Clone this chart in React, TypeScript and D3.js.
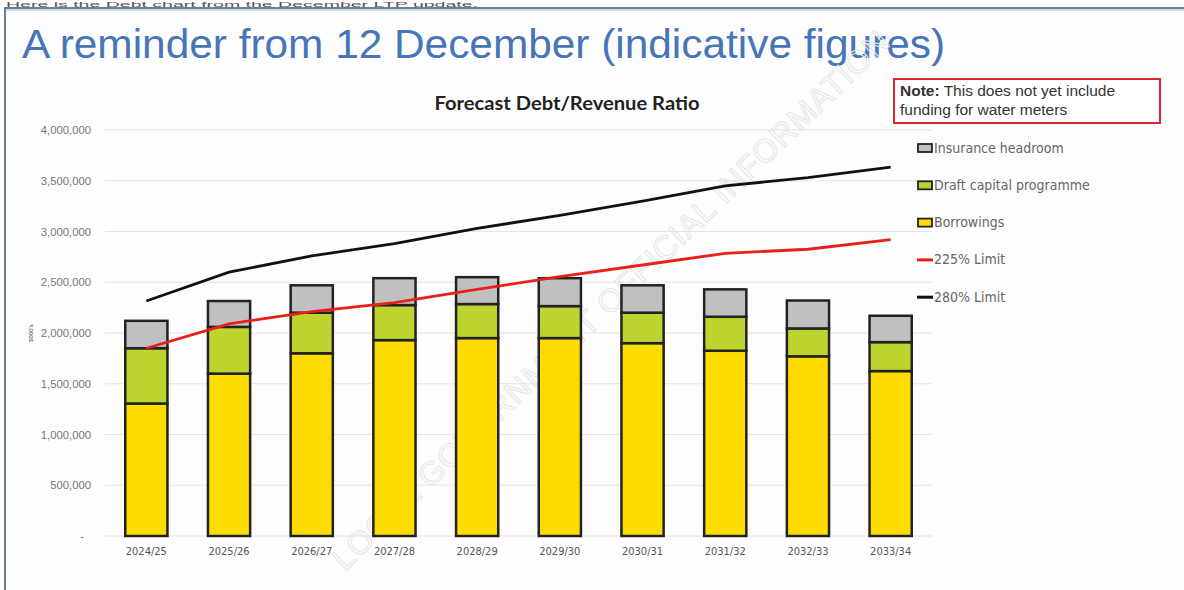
import React from "react";
import * as d3 from "d3";

const years = ["2024/25","2025/26","2026/27","2027/28","2028/29","2029/30","2030/31","2031/32","2032/33","2033/34"];
const borrowings = [1305000,1600000,1800000,1930000,1950000,1950000,1900000,1825000,1770000,1625000];
const draftCapital = [545000,460000,400000,345000,335000,315000,300000,335000,275000,285000];
const insuranceHeadroom = [270000,255000,270000,265000,265000,275000,270000,270000,275000,260000];
const limit225 = [1850000,2090000,2210000,2300000,2430000,2555000,2670000,2785000,2825000,2920000];
const limit280 = [2315000,2600000,2760000,2880000,3030000,3160000,3300000,3450000,3530000,3635000];
const yTicks = [0,500000,1000000,1500000,2000000,2500000,3000000,3500000,4000000];

const seriesNames = ["Borrowings","Draft capital programme","Insurance headroom"];
const seriesColors = ["#ffdc00","#bdd42f","#c0c0c0"];

export default function App() {
  const W = 1184, H = 590;
  const x = d3.scaleBand<string>().domain(years).range([105, 932]).paddingInner(0.49).paddingOuter(0.245);
  const y = d3.scaleLinear().domain([0, 4000000]).range([536, 130]);
  const table = years.map((yr, i) => ({ yr, b: borrowings[i], d: draftCapital[i], h: insuranceHeadroom[i] }));
  const stack = d3.stack<any>().keys(["b","d","h"])(table);
  const fmt = d3.format(",");
  const cx = (yr: string) => (x(yr) as number) + x.bandwidth() / 2;
  const line = d3.line<number>().x((_, i) => cx(years[i])).y(v => y(v));

  const legend = [
    { label: "Insurance headroom", type: "box", color: seriesColors[2] },
    { label: "Draft capital programme", type: "box", color: seriesColors[1] },
    { label: "Borrowings", type: "box", color: seriesColors[0] },
    { label: "225% Limit", type: "line", color: "#e8201c" },
    { label: "280% Limit", type: "line", color: "#111" },
  ];

  return (
    <svg width={W} height={H} style={{ position: "absolute", left: 0, top: 0, background: "#fff" }}>
      <text x={6} y={6.5} fontFamily="Liberation Sans, Arial" fontSize={8} fill="#555" textLength={472} lengthAdjust="spacingAndGlyphs">Here is the Debt chart from the December LTP update.</text>
      <rect x={5} y={8} width={1185} height={590} fill="#fdfdfd" stroke="#6c7f96" strokeWidth={2} />
      <line x1={6} y1={10} x2={1184} y2={10} stroke="#c7d9ee" strokeWidth={2} />
      <text x={22} y={58} fontFamily="Liberation Sans, Arial" fontSize={40} fill="#4675b8" textLength={923} lengthAdjust="spacingAndGlyphs">A reminder from 12 December (indicative figures)</text>

      {/* watermark */}
      <text transform="translate(345,572) rotate(-44)" fontFamily="Liberation Sans, Arial" fontSize={32} fill="none" stroke="#e6e6e6" strokeWidth={1} letterSpacing={1}>LOCAL GOVERNMENT OFFICIAL INFORMATION</text>

      <text x={567} y={110} textAnchor="middle" fontFamily="Lato, Open Sans, sans-serif" fontWeight="bold" fontSize={18} fill="#222" textLength={265} lengthAdjust="spacingAndGlyphs">Forecast Debt/Revenue Ratio</text>

      {yTicks.map(t => (
        <g key={t}>
          <line x1={105} x2={932} y1={y(t)} y2={y(t)} stroke="#e4e4e4" strokeWidth={1.2} />
          <text x={t === 0 ? 84 : 91} y={y(t) + 4} textAnchor="end" fontFamily="Liberation Sans, Arial" fontSize={11.3} fill="#777">{t === 0 ? "-" : fmt(t)}</text>
        </g>
      ))}
      <text transform="translate(33,333) rotate(-90)" textAnchor="middle" fontFamily="Liberation Sans, Arial" fontSize={6} fill="#444">$000's</text>

      {stack.map((s, si) => (
        <g key={si}>
          {s.map((d, i) => (
            <rect key={i} x={x(years[i])} y={y(d[1])} width={x.bandwidth()} height={y(d[0]) - y(d[1])} fill={seriesColors[si]} stroke="#222" strokeWidth={2.5} />
          ))}
        </g>
      ))}

      <path d={line(limit225) as string} fill="none" stroke="#e8201c" strokeWidth={2.8} />
      <path d={line(limit280) as string} fill="none" stroke="#111" strokeWidth={2.8} />

      {years.map(yr => (
        <text key={yr} x={cx(yr)} y={555} textAnchor="middle" fontFamily="DejaVu Sans Condensed, Liberation Sans Narrow, sans-serif" fontSize={11} fill="#555">{yr}</text>
      ))}

      <rect x={894} y={79} width={266} height={44} fill="#fff" stroke="#d8252e" strokeWidth={2} />
      <text x={900} y={96} fontFamily="Liberation Sans, Arial" fontSize={15.5} fill="#333"><tspan fontWeight="bold">Note:</tspan> This does not yet include</text>
      <text x={900} y={115} fontFamily="Liberation Sans, Arial" fontSize={15.5} fill="#333">funding for water meters</text>

      {legend.map((l, i) => {
        const ly = 148 + i * 37.3;
        return (
          <g key={l.label}>
            {l.type === "box"
              ? <rect x={918} y={ly - 4} width={14} height={8} fill={l.color} stroke="#222" strokeWidth={1.8} />
              : <line x1={917} x2={933} y1={ly} y2={ly} stroke={l.color} strokeWidth={3} />}
            <text x={934} y={ly + 4.5} fontFamily="DejaVu Sans Condensed, Liberation Sans Narrow, sans-serif" fontSize={14} fill="#666">{l.label}</text>
          </g>
        );
      })}
    </svg>
  );
}
